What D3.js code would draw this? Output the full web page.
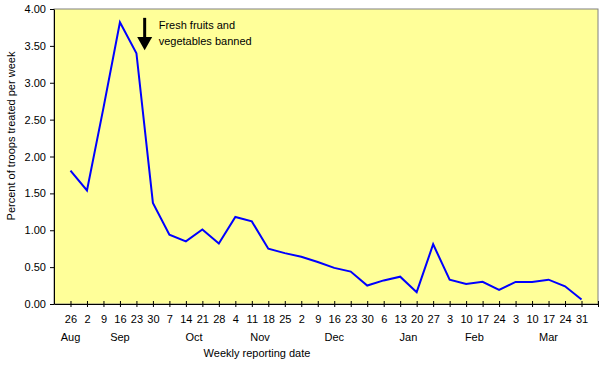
<!DOCTYPE html>
<html lang="en">
<head>
    <meta charset="UTF-8">
    <title>Percent of troops treated per week</title>
    <script src="https://d3js.org/d3.v7.min.js"></script>
    <style>
        body {
            margin: 0;
            background: #ffffff;
            font-family: "Liberation Sans", Arial, sans-serif;
        }
        .axis text {
            font-size: 11px;
            fill: #000;
        }
        .axis path, .axis line {
            stroke: #000;
        }
    </style>
</head>
<body>
    <svg width="602" height="369"></svg>

    <script>
        // weekly reporting dates (day of month) and the month they belong to
        let days = ["26", "2", "9", "16", "23", "30", "7", "14", "21", "28", "4", "11", "18", "25",
            "2", "9", "16", "23", "30", "6", "13", "20", "27", "3", "10", "17", "24",
            "3", "10", "17", "24", "31"];
        let months = ["Aug", "Sep", "Sep", "Sep", "Sep", "Sep", "Oct", "Oct", "Oct", "Oct",
            "Nov", "Nov", "Nov", "Nov", "Dec", "Dec", "Dec", "Dec", "Dec",
            "Jan", "Jan", "Jan", "Jan", "Feb", "Feb", "Feb", "Feb",
            "Mar", "Mar", "Mar", "Mar", "Mar"];
        // percent of troops treated per week
        let percent = [1.81, 1.54, 2.66, 3.82, 3.40, 1.37, 0.94, 0.85, 1.01, 0.82, 1.18, 1.12,
            0.75, 0.69, 0.64, 0.57, 0.49, 0.44, 0.25, 0.32, 0.37, 0.16, 0.81, 0.33,
            0.27, 0.30, 0.19, 0.30, 0.30, 0.33, 0.24, 0.06];
        let yTicks = [0, 0.5, 1, 1.5, 2, 2.5, 3, 3.5, 4];
        let note = ["Fresh fruits and", "vegetables banned"];

        let margin = { top: 9, right: 4, bottom: 65, left: 54 };
        let width = 602, height = 369;

        let svg = d3.select("svg");

        // x is a linear index so the points sit on the tick marks
        let xscale = d3.scaleLinear()
            .domain([-1, days.length])
            .range([margin.left, width - margin.right]);

        let yscale = d3.scaleLinear()
            .domain([0, 4])
            .range([height - margin.bottom, margin.top]);

        // plot area
        svg.append("rect")
            .attr("x", xscale(-1))
            .attr("y", yscale(4))
            .attr("width", xscale(days.length) - xscale(-1))
            .attr("height", yscale(0) - yscale(4))
            .attr("fill", "#ffff99")
            .attr("stroke", "#808080")
            .attr("stroke-width", 1);

        // y axis
        svg.append("g")
            .attr("class", "axis")
            .attr("transform", `translate(${xscale(-1)}, 0)`)
            .call(d3.axisLeft(yscale).tickValues(yTicks).tickFormat(d3.format(".2f"))
                .tickSize(4).tickSizeOuter(0).tickPadding(4))
            .call(g => g.selectAll("text").style("font-size", "11px"));

        // x axis, cross ticks
        let xAxis = svg.append("g")
            .attr("class", "axis")
            .attr("transform", `translate(0, ${yscale(0)})`)
            .call(d3.axisBottom(xscale).tickValues(d3.range(0, days.length + 1))
                .tickFormat(i => days[i] || "").tickSize(3).tickSizeOuter(0).tickPadding(8));
        xAxis.selectAll(".tick line").attr("y1", -3);

        // month labels centred under their weeks
        let groups = d3.groups(percent.map((v, i) => i), i => months[i]);
        svg.append("g")
            .selectAll("text")
            .data(groups)
            .join("text")
            .attr("x", d => xscale(d3.mean(d[1])))
            .attr("y", 341)
            .attr("text-anchor", "middle")
            .style("font-size", "11px")
            .text(d => d[0]);

        // data line
        let line = d3.line()
            .x((d, i) => xscale(i))
            .y(d => yscale(d));

        svg.append("path")
            .datum(percent)
            .attr("d", line)
            .attr("fill", "none")
            .attr("stroke", "#0000ff")
            .attr("stroke-width", 2);

        // annotation arrow between 23 and 30 Sep
        let ax = xscale(4.5);
        svg.append("line")
            .attr("x1", ax).attr("x2", ax)
            .attr("y1", yscale(3.88)).attr("y2", yscale(3.6))
            .attr("stroke", "#000")
            .attr("stroke-width", 3);
        svg.append("path")
            .attr("d", `M${ax - 7.5},${yscale(3.62)} L${ax + 7.5},${yscale(3.62)} L${ax},${yscale(3.44)} Z`)
            .attr("fill", "#000");

        svg.append("text")
            .attr("x", ax + 14)
            .attr("y", 29)
            .style("font-size", "11px")
            .selectAll("tspan")
            .data(note)
            .join("tspan")
            .attr("x", ax + 14)
            .attr("dy", (d, i) => i ? 16 : 0)
            .text(d => d);

        // axis titles
        svg.append("text")
            .attr("x", 257)
            .attr("y", 357)
            .attr("text-anchor", "middle")
            .style("font-size", "11px")
            .text("Weekly reporting date");

        svg.append("text")
            .attr("transform", "translate(15, 136) rotate(-90)")
            .attr("text-anchor", "middle")
            .style("font-size", "11px")
            .text("Percent of troops treated per week");
    </script>
</body>
</html>
